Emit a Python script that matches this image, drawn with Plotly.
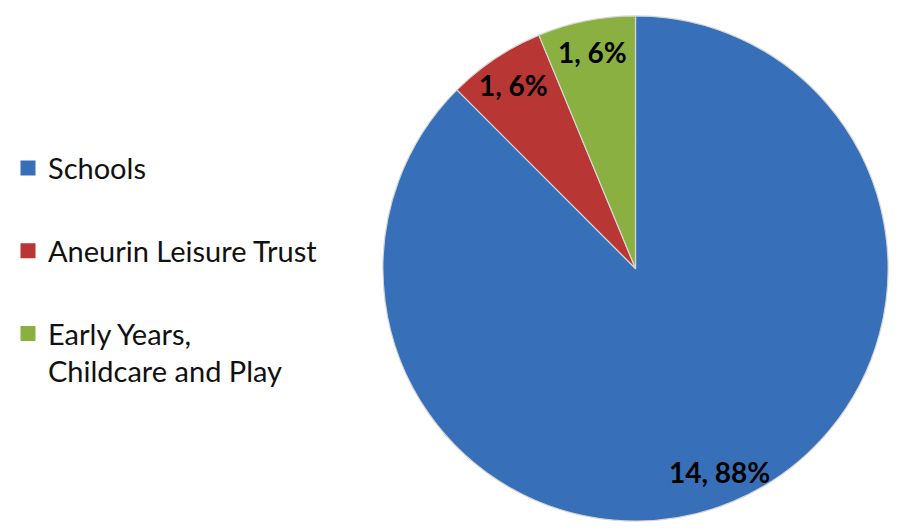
import math
import plotly.graph_objects as go

labels = ["Schools", "Aneurin Leisure Trust", "Early Years, Childcare and Play"]
legend_labels = ["Schools", "Aneurin Leisure Trust", "Early Years,<br>Childcare and Play"]
values = [14, 1, 1]
colors = ["#3770B9", "#B83633", "#8BB042"]

W, H = 899, 528
dom_x = [372 / W, 880 / W]
dom_y = [14 / H, 521 / H]

fig = go.Figure()
fig.add_trace(go.Pie(
    labels=labels, values=values, sort=False, direction="clockwise", rotation=0,
    marker=dict(colors=colors, line=dict(color="#D6D6D6", width=1.2)),
    textinfo="none", showlegend=False, hoverinfo="label+value+percent",
    domain=dict(x=dom_x, y=dom_y),
))

# legend entries
for i, (lab, col) in enumerate(zip(legend_labels, colors)):
    fig.add_trace(go.Scatter(
        x=[None], y=[None], mode="markers", name=lab, legendgroup=f"g{i}",
        marker=dict(symbol="square", size=15, color=col),
    ))

# data labels near the outer edge (computed from the values)
total = sum(values)
cx = (dom_x[0] + dom_x[1]) / 2
cy = (dom_y[0] + dom_y[1]) / 2
r_px = min((dom_x[1] - dom_x[0]) * W, (dom_y[1] - dom_y[0]) * H) / 2
cum = 0
for v in values:
    mid = (cum + v / 2) / total * 2 * math.pi
    cum += v
    d = 0.87 * r_px
    fig.add_annotation(
        x=cx + d * math.sin(mid) / W, y=cy + d * math.cos(mid) / H,
        xref="paper", yref="paper", showarrow=False,
        xanchor="center", yanchor="middle",
        text=f"{v}, {round(v / total * 100)}%",
        font=dict(family="Lato", size=28, color="black", weight="bold"),
    )

fig.update_layout(
    width=W, height=H, margin=dict(l=0, r=0, t=0, b=0),
    paper_bgcolor="white", plot_bgcolor="white",
    xaxis=dict(visible=False), yaxis=dict(visible=False),
    legend=dict(x=-0.006, y=0.745, xanchor="left", yanchor="top",
                font=dict(family="Lato", size=29, color="#111111"),
                tracegroupgap=42, valign="top", traceorder="grouped",
                itemclick=False, itemdoubleclick=False),
)
fig.write_html("out.html")
